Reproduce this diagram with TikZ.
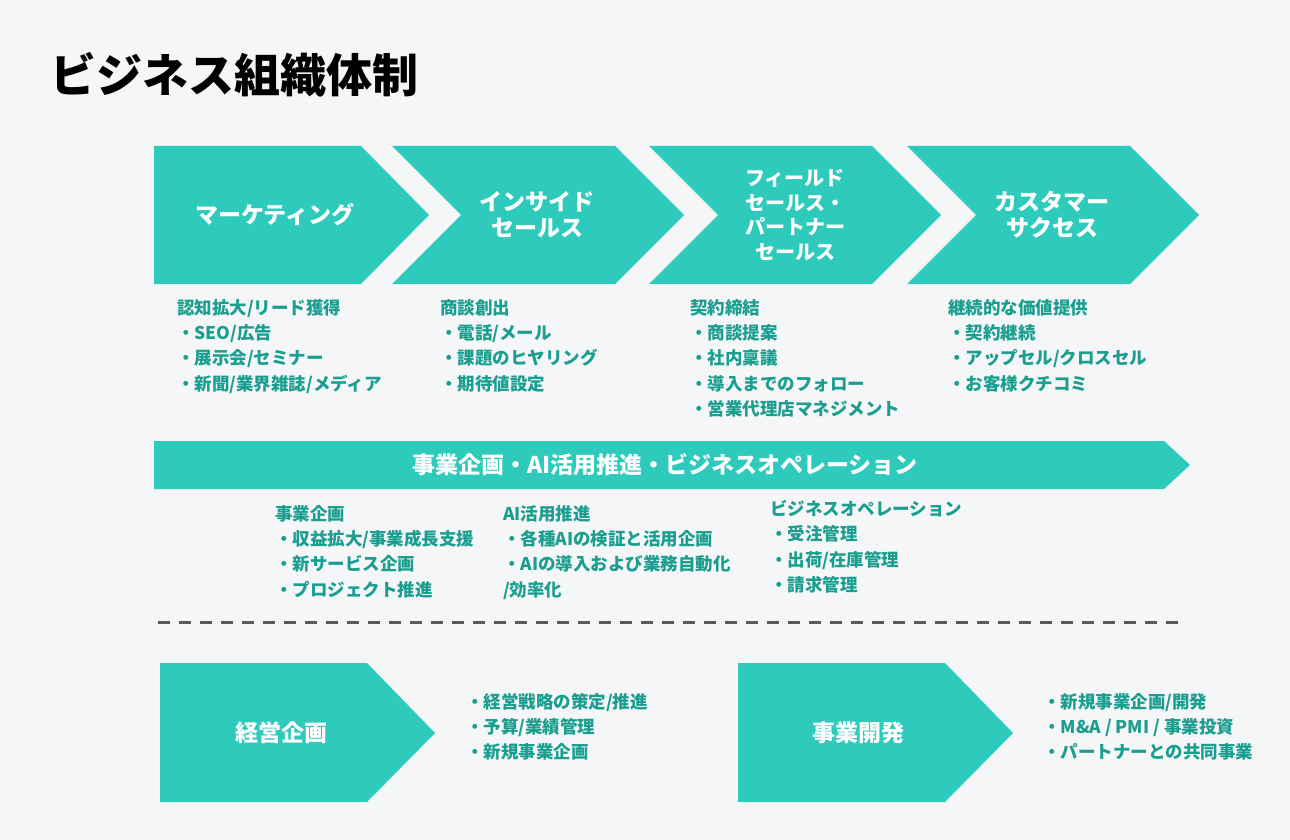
\documentclass[tikz,border=0pt]{standalone}
\usepackage{fontspec}
\setmainfont{Noto Sans CJK JP}
\begin{document}
\definecolor{teal1}{HTML}{2ECBBC}
\definecolor{tealtx}{HTML}{1A9E8F}
\definecolor{bgc}{HTML}{F4F6F8}
\begin{tikzpicture}[x=1pt,y=-1pt,
  shp/.style={fill=teal1,draw=none},
  lab/.style={text=white,font=\bfseries\fontsize{23}{26}\selectfont,align=center},
  lst/.style={text=tealtx,font=\bfseries\fontsize{17.5}{25.3}\selectfont,align=left,anchor=north west,inner sep=0pt},
  tit/.style={font=\bfseries\fontsize{46}{50}\selectfont,anchor=west,inner sep=0pt}]
\fill[bgc] (0,0) rectangle (1290,840);
\useasboundingbox (0,0) rectangle (1290,840);
\node[tit] (title) at (50,75) {ビジネス組織体制};
% chevrons
\fill[shp] (154,146) -- (361,146) -- (429,215) -- (361,284) -- (154,284) -- cycle;
\fill[shp] (392,146) -- (615,146) -- (684,215) -- (615,284) -- (392,284) -- (461,215) -- cycle;
\fill[shp] (649,146) -- (872,146) -- (941,215) -- (872,284) -- (649,284) -- (718,215) -- cycle;
\fill[shp] (907,146) -- (1130,146) -- (1199,215) -- (1130,284) -- (907,284) -- (976,215) -- cycle;
\node[lab] (c1) at (275,215) {マーケティング};
\node[lab] (c2) at (537,215) {インサイド\\セールス};
\node[lab,font=\bfseries\fontsize{20}{24.5}\selectfont] (c3) at (795,215) {フィールド\\セールス・\\パートナー\\セールス};
\node[lab] (c4) at (1052,215) {カスタマー\\サクセス};
\node[lst] (l1) at (177,299) {認知拡大/リード獲得\\・SEO/広告\\・展示会/セミナー\\・新聞/業界雑誌/メディア};
\node[lst] (l2) at (440,299) {商談創出\\・電話/メール\\・課題のヒヤリング\\・期待値設定};
\node[lst] (l3) at (690,299) {契約締結\\・商談提案\\・社内稟議\\・導入までのフォロー\\・営業代理店マネジメント};
\node[lst] (l4) at (948,299) {継続的な価値提供\\・契約継続\\・アップセル/クロスセル\\・お客様クチコミ};
% banner
\fill[shp] (154,441) -- (1164,441) -- (1190,465) -- (1164,489) -- (154,489) -- cycle;
\node[lab] (bn) at (665,465) {事業企画・AI活用推進・ビジネスオペレーション};
\node[lst] (m1) at (275,505) {事業企画\\ ・収益拡大/事業成長支援\\ ・新サービス企画\\ ・プロジェクト推進};
\node[lst] (m2) at (503,505) {AI活用推進\\ ・各種AIの検証と活用企画\\ ・AIの導入および業務自動化\\/効率化};
\node[lst] (m3) at (770,500) {ビジネスオペレーション\\・受注管理\\・出荷/在庫管理\\・請求管理};
% dashed
\draw[color=black!65,line width=3pt,dash pattern=on 12pt off 9pt] (158,622) -- (1185,622);
% bottom
\fill[shp] (160,663) -- (367,663) -- (435,733) -- (367,802) -- (160,802) -- cycle;
\fill[shp] (738,663) -- (945,663) -- (1013,733) -- (945,802) -- (738,802) -- cycle;
\node[lab] (b1) at (281,733) {経営企画};
\node[lab] (b2) at (858,733) {事業開発};
\node[lst] (bl1) at (466,693) {・経営戦略の策定/推進\\・予算/業績管理\\・新規事業企画};
\node[lst] (bl2) at (1043,693) {・新規事業企画/開発\\・M\&A / PMI / 事業投資\\・パートナーとの共同事業};
\end{tikzpicture}
\end{document}
